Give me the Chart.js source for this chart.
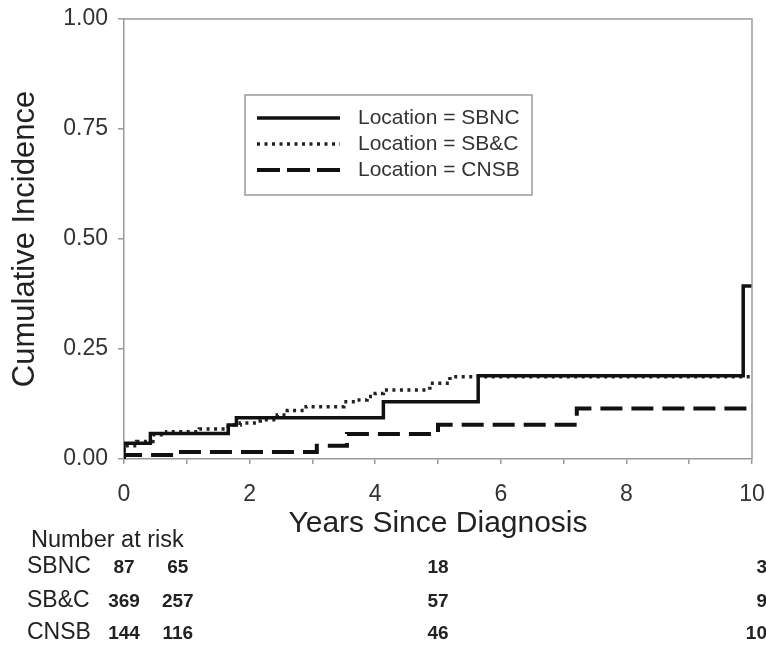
<!DOCTYPE html>
<html lang="en">
<head>
<meta charset="UTF-8">
<title>Cumulative Incidence</title>
<script src="https://cdn.jsdelivr.net/npm/chart.js"></script>
<style>
  body { margin: 0; background: #fff; }
  canvas { display: block; }
</style>
</head>
<body>
<canvas id="myChart" width="766" height="646"></canvas>
<script>
  // step points: years since diagnosis -> cumulative incidence
  const sbncYears = [0, 0, 0.42, 1.66, 1.79, 4.13, 5.64, 9.86, 10];
  const sbncInc = [0, 0.036, 0.058, 0.077, 0.094, 0.13, 0.189, 0.393, 0.393];

  const sbcYears = [0, 0, 0.2, 0.46, 0.68, 1.2, 1.66, 1.85, 2.17, 2.44, 2.6, 2.9, 3.5, 3.7, 3.87, 4.0, 4.13, 4.87, 5.19, 10];
  const sbcInc = [0, 0.03, 0.04, 0.055, 0.062, 0.068, 0.077, 0.082, 0.089, 0.1, 0.11, 0.119, 0.13, 0.134, 0.142, 0.149, 0.157, 0.172, 0.187, 0.187];

  const cnsbYears = [0, 0, 0.84, 3.07, 3.55, 5.0, 7.21, 10];
  const cnsbInc = [0, 0.009, 0.016, 0.03, 0.057, 0.078, 0.115, 0.115];

  const seriesNames = ['Location = SBNC', 'Location = SB&C', 'Location = CNSB'];

  // number at risk table
  const riskGroups = ['SBNC', 'SB&C', 'CNSB'];
  const riskYears = [0, 1, 5, 10];
  const riskSBNC = [87, 65, 18, 3];
  const riskSBC = [369, 257, 57, 9];
  const riskCNSB = [144, 116, 46, 10];

  const FONT = '"Liberation Sans", Arial, sans-serif';
  const GRAY = '#9a9a9a';

  function pontos(xs, ys) {
    return xs.map((x, i) => ({ x: x, y: ys[i] }));
  }

  // box around the plot + legend box
  const moldura = {
    id: 'moldura',
    afterDraw(chart) {
      const ctx = chart.ctx;
      const a = chart.chartArea;
      ctx.save();
      ctx.strokeStyle = GRAY;
      ctx.lineWidth = 1.5;
      ctx.beginPath();
      ctx.moveTo(a.left, a.top);
      ctx.lineTo(a.right, a.top);
      ctx.lineTo(a.right, a.bottom);
      ctx.stroke();

      // legend
      const bx = 245, by = 95, bw = 287, bh = 100;
      ctx.lineWidth = 1.5;
      ctx.strokeRect(bx, by, bw, bh);
      chart.data.datasets.forEach((ds, i) => {
        const y = by + 23 + i * 26;
        ctx.strokeStyle = ds.borderColor;
        ctx.lineWidth = ds.borderWidth;
        ctx.setLineDash(ds.legendDash || []);
        ctx.beginPath();
        ctx.moveTo(bx + 12, y);
        ctx.lineTo(bx + 95, y);
        ctx.stroke();
        ctx.setLineDash([]);
        ctx.fillStyle = '#333';
        ctx.font = '21px ' + FONT;
        ctx.textBaseline = 'middle';
        ctx.textAlign = 'left';
        ctx.fillText(ds.label, bx + 113, y);
      });
      ctx.restore();
    }
  };

  const tabelaRisco = {
    id: 'tabelaRisco',
    afterDraw(chart) {
      const ctx = chart.ctx;
      const xs = chart.scales.x;
      const linhas = [riskSBNC, riskSBC, riskCNSB];
      const rowY = [567, 601, 633];
      const colAlign = ['center', 'center', 'center', 'right'];
      const colShift = [0, -9, 0, 15];
      ctx.save();
      ctx.fillStyle = '#222';
      ctx.textBaseline = 'middle';
      ctx.font = '23.5px ' + FONT;
      ctx.textAlign = 'left';
      ctx.fillText('Number at risk', 31, 541);
      linhas.forEach((vals, r) => {
        ctx.font = '23px ' + FONT;
        ctx.textAlign = 'left';
        ctx.fillText(riskGroups[r], 27, rowY[r]);
        ctx.font = 'bold 19px ' + FONT;
        vals.forEach((v, c) => {
          ctx.textAlign = colAlign[c];
          ctx.fillText(String(v), xs.getPixelForValue(riskYears[c]) + colShift[c], rowY[r] + 1);
        });
      });
      ctx.restore();
    }
  };

  const ctx = document.getElementById('myChart');

  new Chart(ctx, {
    type: 'line',
    data: {
      datasets: [
        {
          label: seriesNames[0],
          data: pontos(sbncYears, sbncInc),
          borderColor: '#111',
          borderWidth: 3.5,
          legendDash: []
        },
        {
          label: seriesNames[1],
          data: pontos(sbcYears, sbcInc),
          borderColor: '#222',
          borderWidth: 3.5,
          borderDash: [3, 4.5],
          legendDash: [3, 4.5]
        },
        {
          label: seriesNames[2],
          data: pontos(cnsbYears, cnsbInc),
          borderColor: '#111',
          borderWidth: 4,
          borderDash: [22, 9],
          legendDash: [23, 7]
        }
      ]
    },
    options: {
      responsive: false,
      animation: false,
      layout: { padding: { left: 0, right: 14, top: 19, bottom: 101 } },
      elements: {
        point: { radius: 0 },
        line: { stepped: 'before', fill: false, tension: 0 }
      },
      plugins: {
        legend: { display: false },
        tooltip: { enabled: false }
      },
      scales: {
        x: {
          type: 'linear',
          min: 0,
          max: 10,
          afterFit(s) {
            s.height = 86;
            s.paddingLeft = 0;
            s.paddingRight = 0;
          },
          border: { color: GRAY, width: 1.5 },
          grid: { drawOnChartArea: false, drawTicks: true, tickLength: 5, color: GRAY, lineWidth: 1.5 },
          ticks: {
            stepSize: 1,
            autoSkip: false,
            maxRotation: 0,
            padding: 17,
            color: '#333',
            font: { family: FONT, size: 23 },
            callback: v => (v % 2 === 0 ? String(v) : '')
          },
          title: {
            display: true,
            text: 'Years Since Diagnosis',
            color: '#222',
            font: { family: FONT, size: 30, lineHeight: 1 },
            padding: { top: 0, bottom: 6 }
          }
        },
        y: {
          min: 0,
          max: 1,
          afterFit(s) {
            s.width = 124;
            s.paddingTop = 0;
            s.paddingBottom = 0;
          },
          border: { color: GRAY, width: 1.5 },
          grid: { drawOnChartArea: false, drawTicks: true, tickLength: 6, color: GRAY, lineWidth: 1.5 },
          ticks: {
            stepSize: 0.25,
            padding: 10,
            color: '#333',
            font: { family: FONT, size: 23 },
            callback: v => v.toFixed(2)
          },
          title: {
            display: true,
            text: 'Cumulative Incidence',
            color: '#222',
            font: { family: FONT, size: 31, lineHeight: 1.2 },
            padding: { top: 7, bottom: 0 }
          }
        }
      }
    },
    plugins: [moldura, tabelaRisco]
  });
</script>
</body>
</html>
